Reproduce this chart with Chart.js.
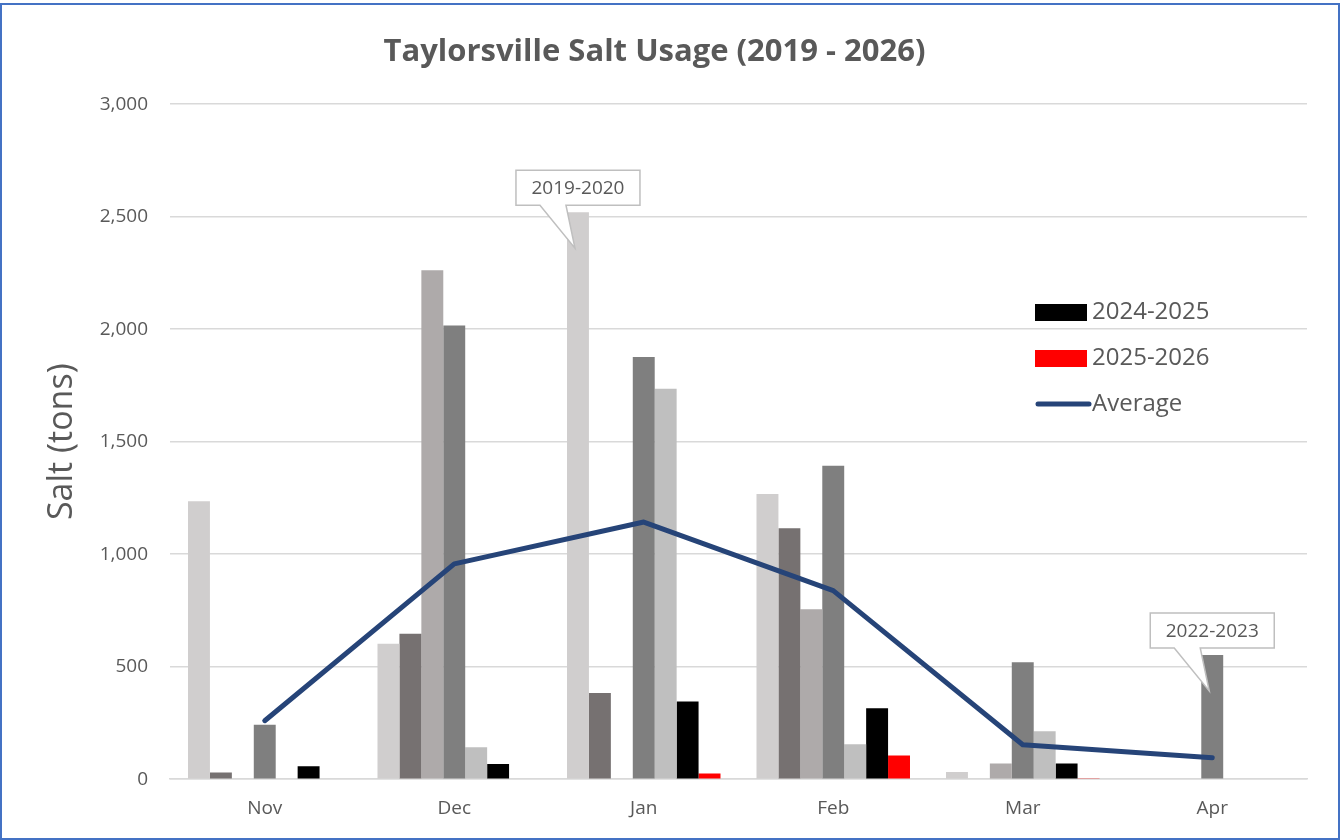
<!DOCTYPE html>
<html>
<head>
<meta charset="utf-8">
<script src="https://cdn.jsdelivr.net/npm/chart.js@4.4.1/dist/chart.umd.min.js"></script>
<style>
  html, body { margin: 0; padding: 0; background: #fff; }
  #wrap {
    position: absolute; left: 0; top: 3px;
    width: 1340px; height: 837px;
    box-sizing: border-box;
    border: 2px solid #4472C4;
    background: #fff;
  }
  #chart { display: block; }
</style>
</head>
<body>
<div id="wrap"><canvas id="chart" width="1336" height="833"></canvas></div>
<script>
const months = ['Nov', 'Dec', 'Jan', 'Feb', 'Mar', 'Apr'];

const s2019 = [1235, 602, 2520, 1268, 32, 0];
const s2020 = [30, 646, 383, 1115, 0, 0];
const s2021 = [0, 2262, 0, 755, 70, 0];
const s2022 = [242, 2017, 1877, 1393, 520, 552];
const s2023 = [0, 142, 1735, 155, 213, 0];
const s2024 = [58, 68, 345, 315, 70, 0];
const s2025 = [3, 0, 25, 105, 4, 0];
const average = [260, 957, 1143, 838, 153, 95];

const yTicks = [0, 500, 1000, 1500, 2000, 2500, 3000];

const grey = '#595959';
const font = '"Open Sans", Lato, sans-serif';

function bar(label, data, color, legend) {
  return {
    type: 'bar', label, data,
    backgroundColor: color, borderWidth: 0,
    categoryPercentage: 0.81, barPercentage: 1,
    order: 1, showInLegend: legend
  };
}

// callouts pointing at a given bar
const callouts = [
  { dataset: '2019-2020', index: 2 },
  { dataset: '2022-2023', index: 5 }
];

const calloutPlugin = {
  id: 'callouts',
  afterDatasetsDraw(chart) {
    const ctx = chart.ctx;
    callouts.forEach(c => {
      const di = chart.data.datasets.findIndex(d => d.label === c.dataset);
      const el = chart.getDatasetMeta(di).data[c.index];
      const bx = el.x, top = el.y;
      const w = 124, h = 35;
      const bottom = top - 7;
      const left = bx - w / 2;
      ctx.save();
      ctx.beginPath();
      ctx.moveTo(left, bottom - h);
      ctx.lineTo(left + w, bottom - h);
      ctx.lineTo(left + w, bottom);
      ctx.lineTo(bx - 12, bottom);
      ctx.lineTo(bx - 3, top + 36);
      ctx.lineTo(bx - 38, bottom);
      ctx.lineTo(left, bottom);
      ctx.closePath();
      ctx.fillStyle = '#fff';
      ctx.fill();
      ctx.strokeStyle = '#BFBFBF';
      ctx.lineWidth = 1.5;
      ctx.stroke();
      ctx.fillStyle = grey;
      ctx.font = '19px ' + font;
      ctx.textAlign = 'center';
      ctx.textBaseline = 'middle';
      ctx.fillText(c.dataset, bx, bottom - h / 2 + 1);
      ctx.restore();
    });
  }
};

// legend drawn inside the plot, only for some series
const legendPlugin = {
  id: 'innerLegend',
  afterDraw(chart) {
    const ctx = chart.ctx;
    const items = chart.data.datasets.filter(d => d.showInLegend);
    let y = 307;
    const x = 1033;
    ctx.save();
    items.forEach(d => {
      if (d.type === 'line') {
        ctx.strokeStyle = d.borderColor;
        ctx.lineWidth = 5;
        ctx.lineCap = 'round';
        ctx.beginPath();
        ctx.moveTo(x + 3, y);
        ctx.lineTo(x + 54, y);
        ctx.stroke();
      } else {
        ctx.fillStyle = d.backgroundColor;
        ctx.fillRect(x, y - 8, 52, 17);
      }
      ctx.fillStyle = grey;
      ctx.font = '24px ' + font;
      ctx.textAlign = 'left';
      ctx.textBaseline = 'middle';
      ctx.fillText(d.label, x + 57, y);
      y += 46;
    });
    ctx.restore();
  }
};

new Chart(document.getElementById('chart').getContext('2d'), {
  data: {
    labels: months,
    datasets: [
      bar('2019-2020', s2019, '#D0CECE', false),
      bar('2020-2021', s2020, '#767171', false),
      bar('2021-2022', s2021, '#AEAAAA', false),
      bar('2022-2023', s2022, '#7F7F7F', false),
      bar('2023-2024', s2023, '#BFBFBF', false),
      bar('2024-2025', s2024, '#000000', true),
      bar('2025-2026', s2025, '#FF0000', true),
      {
        type: 'line', label: 'Average', data: average,
        borderColor: '#264478', backgroundColor: '#264478',
        borderWidth: 5, pointRadius: 0, borderCapStyle: 'round',
        borderJoinStyle: 'round', tension: 0, order: 0, showInLegend: true
      }
    ]
  },
  options: {
    responsive: false,
    animation: false,
    layout: { padding: { left: 0, right: 31, top: 29, bottom: 0 } },
    plugins: {
      legend: { display: false },
      tooltip: { enabled: false },
      title: {
        display: true,
        text: 'Taylorsville Salt Usage (2019 - 2026)',
        color: grey,
        font: { family: font, size: 31, weight: 'bold' },
        padding: { top: 0, bottom: 33 }
      }
    },
    scales: {
      x: {
        grid: { display: false, drawTicks: false },
        border: { display: true, color: '#D9D9D9', width: 1.5 },
        ticks: { color: grey, font: { family: font, size: 19 }, padding: 18 }
      },
      y: {
        min: 0, max: 3000,
        afterBuildTicks: scale => { scale.ticks = yTicks.map(v => ({ value: v })); },
        afterFit: scale => { scale.width = 168; },
        grid: { color: '#D9D9D9', lineWidth: 1.5, drawTicks: false },
        border: { display: false },
        ticks: {
          color: grey, font: { family: font, size: 19 }, padding: 22,
          callback: v => v.toLocaleString('en-US')
        },
        title: {
          display: true, text: 'Salt (tons)', color: grey,
          font: { family: font, size: 34 },
          padding: { top: 40, bottom: 0 }
        }
      }
    }
  },
  plugins: [calloutPlugin, legendPlugin]
});
</script>
</body>
</html>
